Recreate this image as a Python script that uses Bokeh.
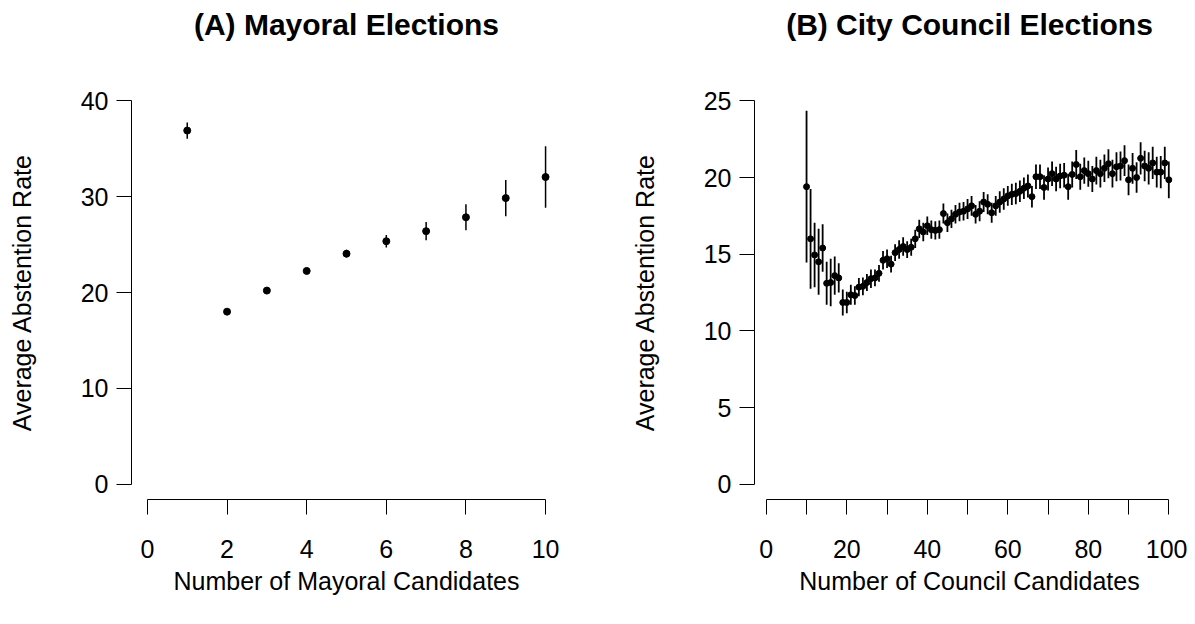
from bokeh.plotting import figure
from bokeh.models import ColumnDataSource, Range1d, FixedTicker, LinearAxis
from bokeh.layouts import row
from bokeh.embed import file_html
from bokeh.resources import INLINE

# ---- Data: (A) Mayoral elections ----
mayor_n = [1, 2, 3, 4, 5, 6, 7, 8, 9, 10]
mayor_rate = [36.9, 18.0, 20.2, 22.25, 24.05, 25.35, 26.4, 27.85, 29.85, 32.05]
mayor_err = [0.85, 0.2, 0.25, 0.3, 0.4, 0.65, 0.95, 1.35, 1.9, 3.2]

# ---- Data: (B) City council elections ----
council_n = list(range(10, 101))
council_rate = [
    19.4, 16.0, 14.95, 14.5, 15.4, 13.1, 13.15, 13.6, 13.45, 11.85,
    11.85, 12.35, 12.3, 12.85, 12.9, 13.15, 13.4, 13.45, 13.75, 14.6,
    14.7, 14.35, 15.1, 15.3, 15.5, 15.3, 15.45, 16.0, 16.65, 16.45,
    16.85, 16.6, 16.55, 16.6, 17.65, 17.05, 17.3, 17.6, 17.75, 17.8,
    17.95, 18.15, 17.6, 17.8, 18.4, 18.25, 17.7, 18.15, 18.4, 18.6,
    18.8, 18.9, 18.95, 19.1, 19.3, 19.45, 18.75, 20.05, 20.05, 19.35,
    19.9, 20.25, 19.9, 20.1, 20.15, 19.4, 20.2, 20.85, 20.05, 20.45,
    20.25, 19.9, 20.45, 20.25, 20.6, 20.9, 20.25, 20.7, 20.75, 21.1,
    19.85, 20.6, 20.0, 21.25, 20.75, 20.6, 20.95, 20.35, 20.35, 20.95,
    19.85,
]
council_err = [
    4.95, 3.25, 2.1, 2.15, 1.55, 1.4, 1.55, 1.25, 0.95, 0.85,
    0.7, 0.65, 0.6, 0.6, 0.58, 0.55, 0.6, 0.55, 0.55, 0.6,
    0.6, 0.55, 0.55, 0.6, 0.6, 0.55, 0.55, 0.6, 0.6, 0.6,
    0.6, 0.6, 0.6, 0.6, 0.65, 0.6, 0.6, 0.6, 0.6, 0.6,
    0.65, 0.65, 0.6, 0.65, 0.65, 0.65, 0.65, 0.65, 0.7, 0.7,
    0.65, 0.7, 0.7, 0.7, 0.7, 0.75, 0.7, 0.8, 0.8, 0.8,
    0.75, 0.8, 0.8, 0.8, 0.8, 0.85, 0.85, 0.95, 0.85, 0.85,
    0.85, 0.85, 0.9, 0.9, 0.9, 0.95, 0.9, 0.95, 0.95, 1.0,
    1.0, 1.0, 1.0, 1.05, 1.0, 1.05, 1.05, 1.0, 1.05, 1.05,
    1.2,
]

mayor_xticks = [0, 2, 4, 6, 8, 10]
mayor_yticks = [0, 10, 20, 30, 40]
council_xticks = list(range(0, 101, 10))
council_xlabels = {t: (str(t) if t % 20 == 0 else "") for t in council_xticks}
council_yticks = [0, 5, 10, 15, 20, 25]

FONT = "Liberation Sans"


def make_panel(title, xs, ys, es, xr, yr, xb, yb, xt, yt, xlab, width,
               mb_left, mb_right, dot, lw, xoverride=None):
    src = ColumnDataSource(dict(
        x=xs, y=ys,
        lo=[a - b for a, b in zip(ys, es)],
        hi=[a + b for a, b in zip(ys, es)],
    ))
    p = figure(width=width, height=608, output_backend="svg",
               toolbar_location=None,
               x_range=Range1d(*xr), y_range=Range1d(*yr),
               min_border_left=mb_left, min_border_right=mb_right,
               min_border_top=85, min_border_bottom=109)
    p.outline_line_color = None
    p.grid.visible = False
    p.background_fill_color = "white"
    p.border_fill_color = "white"

    bx = p.below[0]
    ly = p.left[0]

    p.segment(x0="x", y0="lo", x1="x", y1="hi", source=src,
              line_color="black", line_width=lw)
    p.scatter(x="x", y="y", source=src, size=dot, color="black")

    for ax in (bx, ly):
        ax.axis_line_color = "black"
        ax.axis_line_width = 1
        ax.major_tick_line_color = "black"
        ax.major_tick_line_width = 1
        ax.major_tick_out = 15
        ax.major_tick_in = 0
        ax.minor_tick_line_color = None
        ax.major_label_text_font = FONT
        ax.major_label_text_font_size = "25px"
        ax.major_label_text_color = "black"
        ax.axis_label_text_font = FONT
        ax.axis_label_text_font_size = "25px"
        ax.axis_label_text_font_style = "normal"
        ax.axis_label_text_color = "black"

    bx.bounds = xb
    ly.bounds = yb
    bx.ticker = FixedTicker(ticks=xt)
    ly.ticker = FixedTicker(ticks=yt)
    if xoverride:
        bx.major_label_overrides = xoverride
    bx.axis_label = xlab
    ly.axis_label = "Average Abstention Rate"
    bx.major_label_standoff = 25
    bx.axis_label_standoff = 6
    ly.major_label_standoff = 8
    ly.axis_label_standoff = 42

    # panel title: label of a bare axis above the (invisible) frame
    top = LinearAxis(ticker=FixedTicker(ticks=[]), axis_label=title,
                     axis_line_color=None, major_tick_line_color=None,
                     minor_tick_line_color=None,
                     axis_label_text_font=FONT,
                     axis_label_text_font_size="30px",
                     axis_label_text_font_style="bold",
                     axis_label_text_color="black",
                     axis_label_standoff=45)
    p.add_layout(top, "above")
    return p


p1 = make_panel("(A) Mayoral Elections", mayor_n, mayor_rate, mayor_err,
                (-0.4, 10.4), (-1.6, 41.6), (0, 10), (0, 40),
                mayor_xticks, mayor_yticks, "Number of Mayoral Candidates",
                598, 131, 37, 7, 1.5)
p2 = make_panel("(B) City Council Elections", council_n, council_rate,
                council_err, (-2.93, 103.9), (-1.0, 26.0), (0, 100), (0, 25),
                council_xticks, council_yticks, "Number of Council Candidates",
                589, 156, 3, 6, 1.8, council_xlabels)

layout = row(p1, p2)
open("out.html", "w").write(file_html(layout, INLINE))
